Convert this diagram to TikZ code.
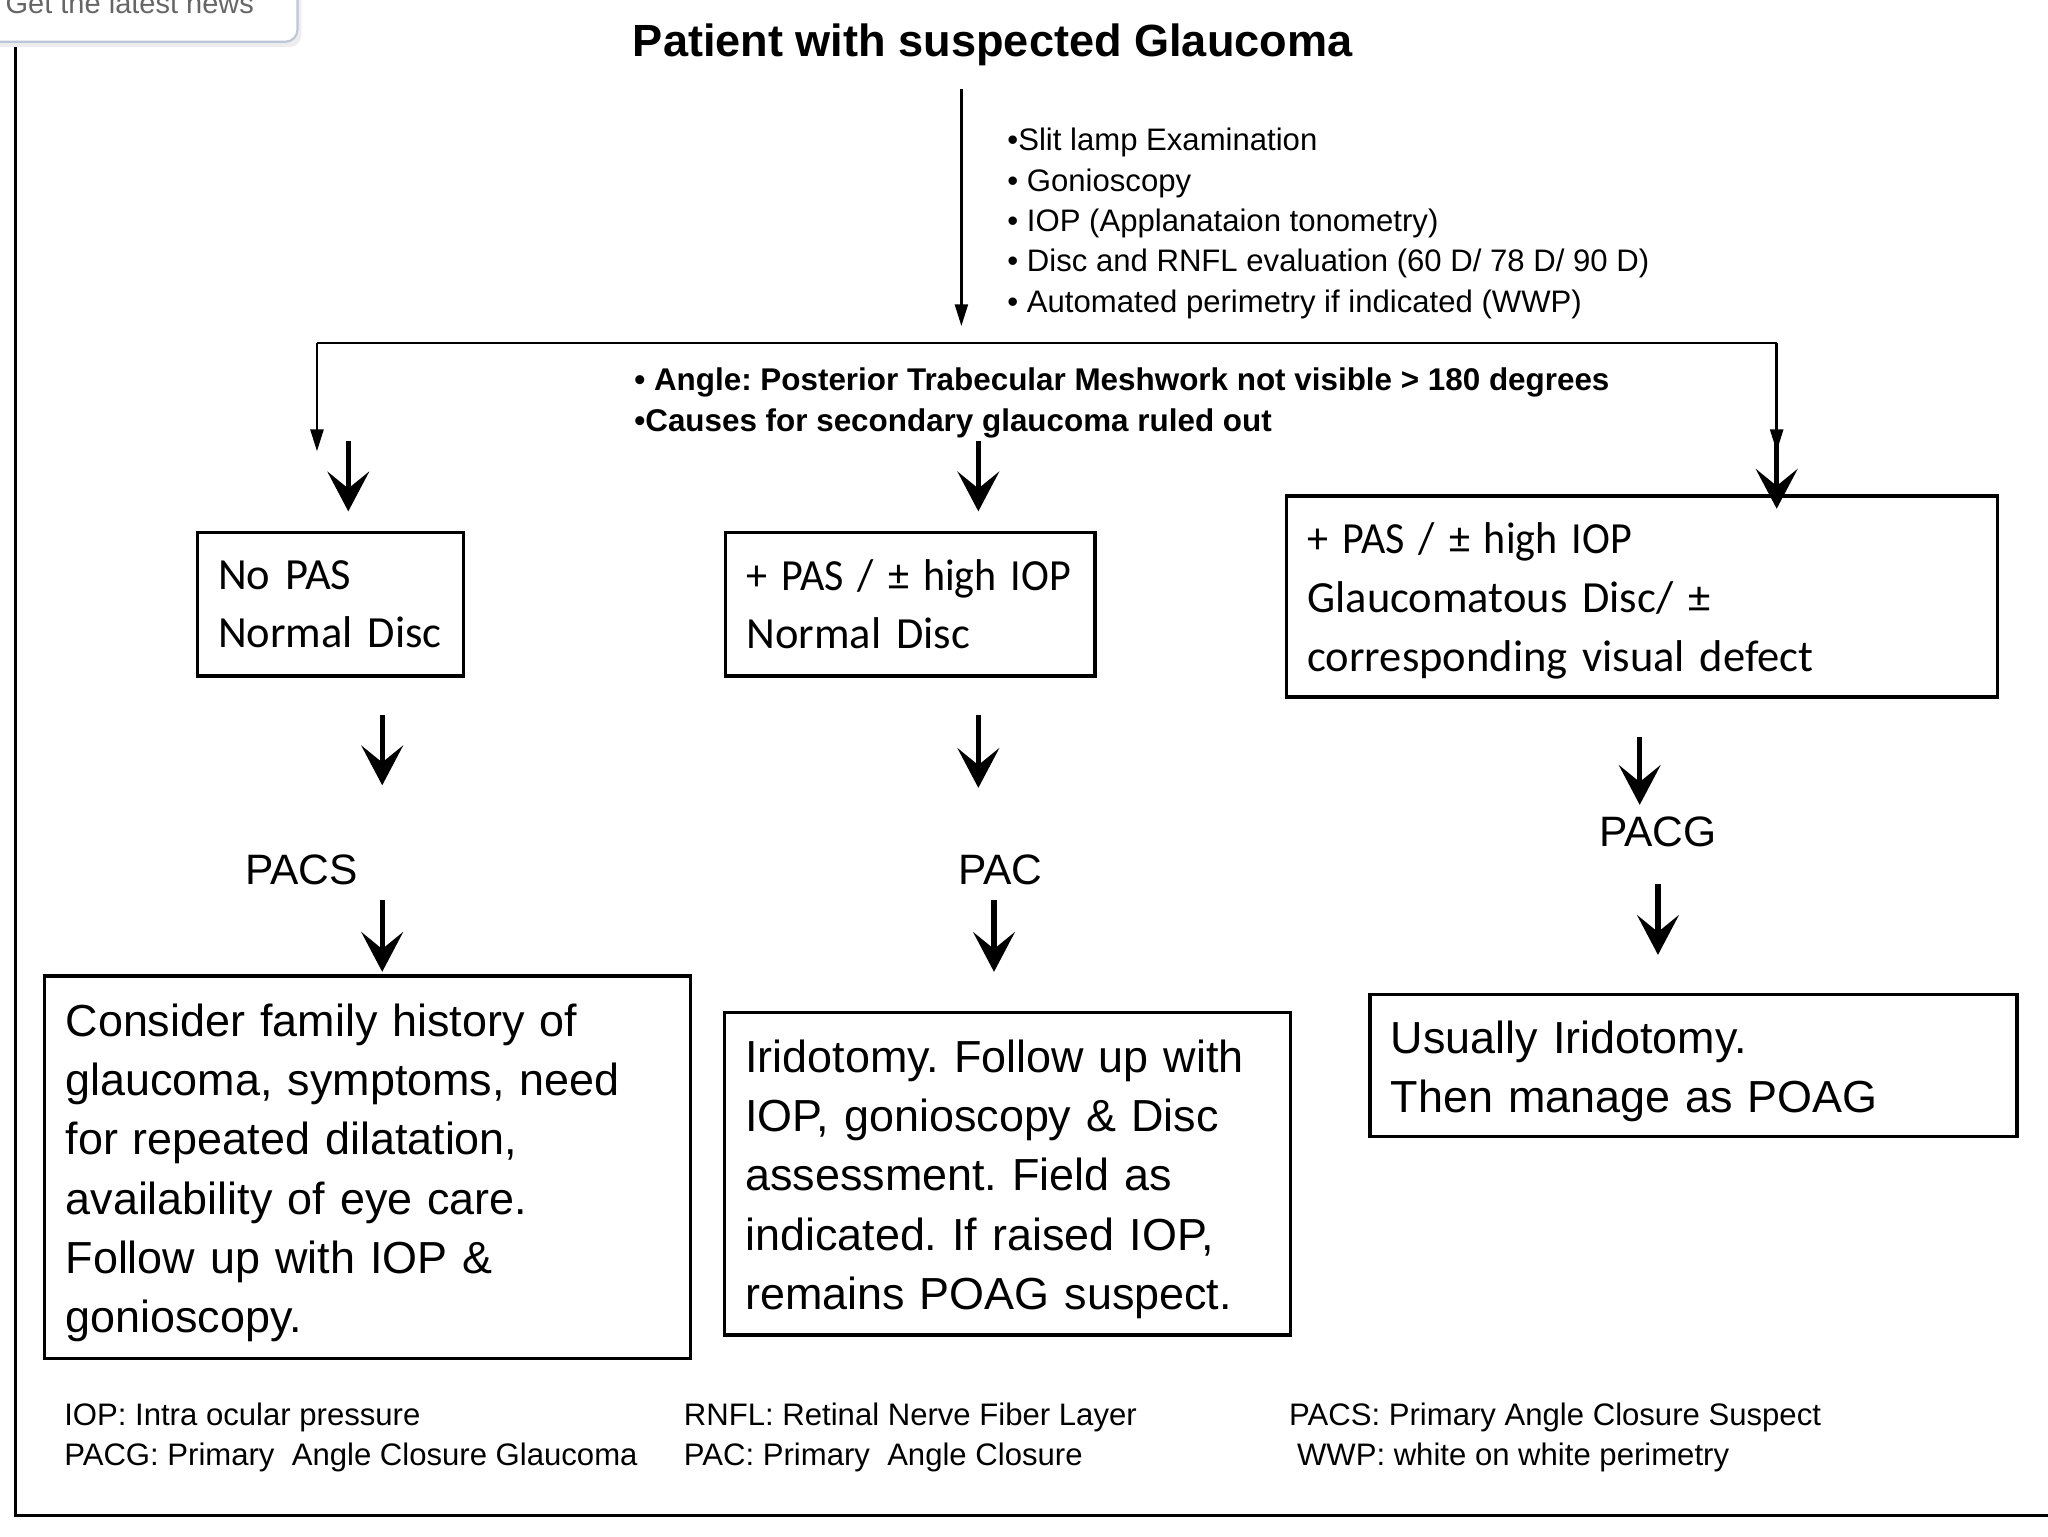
\documentclass[tikz,border=0pt]{standalone}
\usepackage{fontspec}
\usepackage{graphicx}
\setmainfont{Liberation Sans}
\newfontfamily\calib[WordSpace=0.6]{Carlito}
\usetikzlibrary{arrows.meta}
\definecolor{popupedge}{RGB}{188,200,216}
\newcommand\pasline{\scalebox{0.945}[1]{+ PAS / ± high IOP}}
\newcommand\topstrut{\rule{0pt}{22pt}}
\frenchspacing
\begin{document}
\begin{tikzpicture}[x=0.6564pt, y=-0.6564pt,
  thinline/.style={line width=1.3pt, draw=black},
  thinarrow/.style={thinline, -{Triangle[length=11pt,width=6.5pt]}},
  bigarrow/.style={line width=2.7pt, -{Stealth[length=20pt,width=21pt,inset=8.5pt]}},
  boxnode/.style={draw, line width=1.7pt, anchor=north west, inner xsep=10.5pt, inner ysep=0pt, align=left},
  calbox/.style={boxnode, font=\calib\fontsize{22.4}{29.5}\selectfont},
  arbox/.style={boxnode, font=\fontsize{22.6}{29.8}\selectfont},
  smalltext/.style={font=\fontsize{15.65}{20.35}\selectfont, inner sep=0pt, anchor=base west},
  boldtext/.style={font=\bfseries\fontsize{15.8}{20.35}\selectfont, inner sep=0pt, anchor=base west},
  stagelabel/.style={font=\fontsize{21.4}{26}\selectfont, inner sep=0pt, anchor=base}
]
\useasboundingbox (0,0) rectangle (1570,1177.5);
\clip (0,0) rectangle (1570,1177.5);
\fill[white] (0,0) rectangle (1570,1177.5);

% outer frame
\draw[line width=1.6pt] (12,-50) rectangle (1640,1162);

% popup
\fill[black!7, rounded corners=6pt] (-10,-20) rectangle (231,36);
\draw[fill=white, draw=popupedge, line width=1.1pt, rounded corners=6pt] (-10,-20) rectangle (228,32);
\node[anchor=base west, inner sep=0pt, text=black!60, font=\fontsize{14.6}{17}\selectfont] (news) at (4,10) {Get the latest news};

% title
\node[font=\bfseries\fontsize{22.7}{27}\selectfont, anchor=base, inner sep=0pt] (title) at (761,43) {Patient with suspected Glaucoma};

% examinations list
\node[smalltext] (l1) at (772,115.5) {•Slit lamp Examination};
\node[smalltext] (l2) at (772,146.5) {• Gonioscopy};
\node[smalltext] (l3) at (772,177.5) {• IOP (Applanataion tonometry)};
\node[smalltext] (l4) at (772,208.5) {• Disc and RNFL evaluation (60 D/ 78 D/ 90 D)};
\node[smalltext] (l5) at (772,239.5) {• Automated perimetry if indicated (WWP)};

% criteria
\node[boldtext] (c1) at (486,299.5) {• Angle: Posterior Trabecular Meshwork not visible > 180 degrees};
\node[boldtext] (c2) at (486,330.5) {•Causes for secondary glaucoma ruled out};

% thin connectors
\coordinate (mtop) at (737,68);
\coordinate (mend) at (737,250);
\coordinate (hl) at (243,263);
\coordinate (hr) at (1362,263);
\coordinate (hlend) at (243,346);
\coordinate (hrend) at (1362,346);
\draw[thinarrow] (mtop) -- (mend);
\draw[thinline] (hl) -- (hr);
\draw[thinarrow] (hl) -- (hlend);
\draw[thinarrow] (hr) -- (hrend);

% boxes
\node[calbox, text width=112.9pt, minimum height=72.2pt] (b1) at (150,407) {\mbox{No PAS}\\\mbox{Normal Disc}};
\node[calbox, text width=164.8pt, minimum height=72.2pt] (b2) at (555,407) {\pasline\\\mbox{Normal Disc}};
\node[calbox, text width=336.7pt, minimum height=101.1pt] (b3) at (985,379) {\rule{0pt}{20pt}\pasline\\Glaucomatous Disc/ ±\\corresponding visual defect};

\node[arbox, text width=303.9pt, minimum height=192.3pt] (b4) at (33,747) {\topstrut Consider family history of\\glaucoma, symptoms, need\\for repeated dilatation,\\availability of eye care.\\Follow up with IOP \&\\gonioscopy.};
\node[arbox, text width=263.9pt, minimum height=162.1pt] (b5) at (554,775) {\topstrut Iridotomy. Follow up with\\IOP, gonioscopy \& Disc\\assessment. Field as\\indicated. If raised IOP,\\remains POAG suspect.};
\node[arbox, text width=304.6pt, minimum height=71.5pt] (b6) at (1049,761) {\topstrut Usually Iridotomy.\\Then manage as POAG};

% stage labels
\node[stagelabel] (pacs) at (231,678) {PACS};
\node[stagelabel] (pac) at (767,678) {PAC};
\node[stagelabel] (pacg) at (1271,649) {PACG};

% thick arrows
\coordinate (a1s) at (267,338); \coordinate (a1e) at (267,392);
\coordinate (a2s) at (750,338); \coordinate (a2e) at (750,392);
\coordinate (a3s) at (1362,335); \coordinate (a3e) at (1362,390);
\coordinate (a4s) at (293,548); \coordinate (a4e) at (293,602);
\coordinate (a5s) at (750,548); \coordinate (a5e) at (750,604);
\coordinate (a6s) at (1257,565); \coordinate (a6e) at (1257,617);
\coordinate (a7s) at (293,690); \coordinate (a7e) at (293,745);
\coordinate (a8s) at (762,690); \coordinate (a8e) at (762,745);
\coordinate (a9s) at (1271,678); \coordinate (a9e) at (1271,732);
\foreach \i in {1,...,9} { \draw[bigarrow] (a\i s) -- (a\i e); }

% footer
\node[smalltext] (f1) at (49,1092.5) {IOP: Intra ocular pressure};
\node[smalltext] (f2) at (49,1123.5) {PACG: Primary\ \ Angle Closure Glaucoma};
\node[smalltext] (f3) at (524,1092.5) {RNFL: Retinal Nerve Fiber Layer};
\node[smalltext] (f4) at (524,1123.5) {PAC: Primary\ \ Angle Closure};
\node[smalltext] (f5) at (988,1092.5) {PACS: Primary Angle Closure Suspect};
\node[smalltext] (f6) at (994,1123.5) {WWP: white on white perimetry};
\end{tikzpicture}
\end{document}
